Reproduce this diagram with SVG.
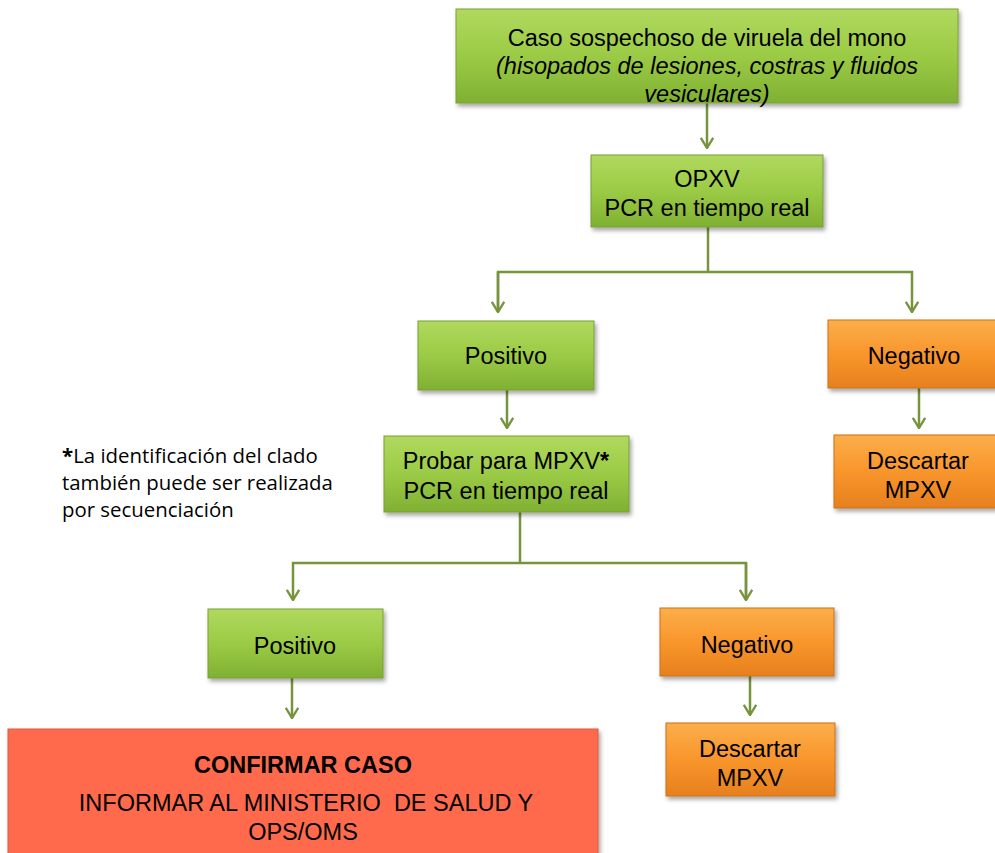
<svg xmlns="http://www.w3.org/2000/svg" width="995" height="853" viewBox="0 0 995 853">
<style>
.t{font-family:"Liberation Sans",Arial,sans-serif;font-size:23.5px;fill:#000;text-anchor:middle}
.g{fill:url(#gg);stroke:#7A9E3A;stroke-width:1}
.o{fill:url(#og);stroke:#C8731C;stroke-width:1}
.r{fill:#FF6A4E;stroke:#E0583E;stroke-width:1}
.c{fill:none;stroke:#77933C;stroke-width:2.5}
.n{font-family:"Open Sans","Liberation Sans",sans-serif;font-size:20.4px;fill:#000}
</style>
<defs>
<linearGradient id="gg" x1="0" y1="0" x2="0" y2="1">
<stop offset="0" stop-color="#B0D95E"/><stop offset="0.5" stop-color="#9BCB45"/><stop offset="1" stop-color="#7FB032"/>
</linearGradient>
<linearGradient id="og" x1="0" y1="0" x2="0" y2="1">
<stop offset="0" stop-color="#FCAE4A"/><stop offset="0.5" stop-color="#F8962C"/><stop offset="1" stop-color="#E7801E"/>
</linearGradient>
<filter id="sh" x="-10%" y="-10%" width="130%" height="140%">
<feDropShadow dx="2" dy="3" stdDeviation="2" flood-color="#000" flood-opacity="0.35"/>
</filter>
<marker id="ar" viewBox="0 0 12 14" refX="11" refY="7" markerWidth="12" markerHeight="14" markerUnits="userSpaceOnUse" orient="auto">
<polyline points="0.8,0.8 11,7 0.8,13.2" fill="none" stroke="#77933C" stroke-width="2.4"/>
</marker>
</defs>
<g id="connectors">
<line class="c" x1="707" y1="103" x2="707" y2="148" marker-end="url(#ar)"/>
<polyline class="c" points="708,227 708,272"/>
<polyline class="c" points="498,312 498,272 912,272 912,312" marker-end="url(#ar)"/>
<line class="c" x1="498" y1="272" x2="498" y2="312" marker-end="url(#ar)"/>
<line class="c" x1="507" y1="390" x2="507" y2="428" marker-end="url(#ar)"/>
<line class="c" x1="919" y1="388" x2="919" y2="428" marker-end="url(#ar)"/>
<polyline class="c" points="520,512 520,563"/>
<polyline class="c" points="746,600 746,563 293,563 293,600" marker-end="url(#ar)"/>
<line class="c" x1="746" y1="563" x2="746" y2="600" marker-end="url(#ar)"/>
<line class="c" x1="292" y1="678" x2="292" y2="718" marker-end="url(#ar)"/>
<line class="c" x1="750" y1="676" x2="750" y2="715" marker-end="url(#ar)"/>
</g>
<g id="caso">
<rect class="g" x="456" y="9" width="502" height="94" filter="url(#sh)"/>
<text class="t" x="707" y="46">Caso sospechoso de viruela del mono</text>
<text class="t" x="707" y="74" font-style="italic">(hisopados de lesiones, costras y fluidos</text>
<text class="t" x="707" y="102" font-style="italic">vesiculares)</text>
</g>
<g id="opxv">
<rect class="g" x="591" y="155" width="232" height="72" filter="url(#sh)"/>
<text class="t" x="707" y="187">OPXV</text>
<text class="t" x="707" y="216">PCR en tiempo real</text>
</g>
<g id="positivo1">
<rect class="g" x="418" y="321" width="176" height="69" filter="url(#sh)"/>
<text class="t" x="506" y="364">Positivo</text>
</g>
<g id="negativo1">
<rect class="o" x="828" y="320" width="172" height="68" filter="url(#sh)"/>
<text class="t" x="914" y="364">Negativo</text>
</g>
<g id="probar">
<rect class="g" x="384" y="436" width="245" height="76" filter="url(#sh)"/>
<text class="t" x="506" y="469">Probar para MPXV<tspan font-weight="bold">*</tspan></text>
<text class="t" x="506" y="499">PCR en tiempo real</text>
</g>
<g id="descartar1">
<rect class="o" x="834" y="435" width="166" height="73" filter="url(#sh)"/>
<text class="t" x="918" y="469">Descartar</text>
<text class="t" x="918" y="498">MPXV</text>
</g>
<g id="nota">
<text class="n" x="62" y="463"><tspan font-weight="bold">*</tspan>La identificación del clado</text>
<text class="n" x="62" y="490">también puede ser realizada</text>
<text class="n" x="62" y="517">por secuenciación</text>
</g>
<g id="positivo2">
<rect class="g" x="208" y="609" width="175" height="69" filter="url(#sh)"/>
<text class="t" x="295" y="654">Positivo</text>
</g>
<g id="negativo2">
<rect class="o" x="660" y="608" width="174" height="68" filter="url(#sh)"/>
<text class="t" x="747" y="653">Negativo</text>
</g>
<g id="descartar2">
<rect class="o" x="666" y="723" width="169" height="73" filter="url(#sh)"/>
<text class="t" x="750" y="757">Descartar</text>
<text class="t" x="750" y="786">MPXV</text>
</g>
<g id="confirmar">
<rect class="r" x="8" y="729" width="590" height="130" filter="url(#sh)"/>
<text class="t" x="303" y="773" font-weight="bold">CONFIRMAR CASO</text>
<text class="t" x="306" y="811">INFORMAR AL MINISTERIO&#160; DE SALUD Y</text>
<text class="t" x="303" y="840">OPS/OMS</text>
</g>
</svg>
